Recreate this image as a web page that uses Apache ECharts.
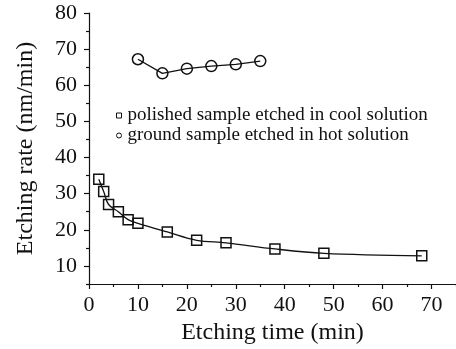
<!DOCTYPE html>
<html>
<head>
<meta charset="utf-8">
<script src="https://cdn.jsdelivr.net/npm/echarts@6/dist/echarts.min.js"></script>
<style>
  html, body { margin: 0; padding: 0; background: #fff; }
  #chart { width: 456px; height: 349px; }
</style>
</head>
<body>
<div id="chart"></div>
<script>
// polished sample, cool solution
const coolTime = [2, 3, 4, 6, 8, 10, 16, 22, 28, 38, 48, 68];
const coolRate = [34.0, 30.6, 27.0, 25.0, 22.8, 21.8, 19.4, 17.1, 16.4, 14.7, 13.5, 12.8];
// ground sample, hot solution
const hotTime = [10, 15, 20, 25, 30, 35];
const hotRate = [67.2, 63.3, 64.6, 65.3, 65.8, 66.7];

const xTicks = [0, 10, 20, 30, 40, 50, 60, 70];
const xMinor = [5, 15, 25, 35, 45, 55, 65, 75];
const yTicks = [10, 20, 30, 40, 50, 60, 70, 80];
const yMinor = [5, 15, 25, 35, 45, 55, 65, 75];

const seriesNames = ['polished sample etched in cool solution', 'ground sample etched in hot solution'];

const font = '"Liberation Serif", serif';
const ink = '#111';

const chart = echarts.init(document.getElementById('chart'));

const tickText = { t: { fontFamily: font, fontSize: 22, color: ink } };

const baseX = {
  type: 'value', min: 0, max: 75, interval: 5,
  axisLine: { lineStyle: { color: ink, width: 1.2 } },
  splitLine: { show: false }
};
const baseY = {
  type: 'value', min: 5, max: 80, interval: 5,
  axisLine: { lineStyle: { color: ink, width: 1.2 } },
  splitLine: { show: false }
};

chart.setOption({
  animation: false,
  backgroundColor: '#fff',
  textStyle: { fontFamily: font, color: ink },
  grid: { left: 89, top: 13, right: 0, bottom: 65, outerBoundsMode: 'none', containLabel: false },
  legend: {
    orient: 'vertical',
    left: 111, top: 101,
    itemWidth: 5, itemHeight: 5, itemGap: 1,
    selectedMode: false,
    lineStyle: { color: 'rgba(0,0,0,0)' },
    textStyle: { fontFamily: font, fontSize: 19, color: ink, lineHeight: 19, padding: [0, 0, 0, 1] },
    data: [
      { name: seriesNames[0], icon: 'rect', itemStyle: { color: '#fff', borderColor: ink, borderWidth: 1 } },
      { name: seriesNames[1], icon: 'circle', itemStyle: { color: '#fff', borderColor: ink, borderWidth: 1 } }
    ]
  },
  xAxis: [
    Object.assign({}, baseX, {
      name: 'Etching time (min)', nameLocation: 'middle', nameGap: 36,
      nameTextStyle: { fontFamily: font, fontSize: 24, color: ink },
      axisTick: { customValues: xTicks, length: 5, lineStyle: { color: ink, width: 1.2 } },
      axisLabel: {
        fontFamily: font, fontSize: 22, color: ink, margin: 10, rich: tickText,
        formatter: v => (xTicks.includes(v) ? '{t|' + v + '}' : '')
      }
    }),
    Object.assign({}, baseX, {
      position: 'bottom',
      axisLine: { show: false },
      axisTick: { customValues: xMinor, length: 3, lineStyle: { color: ink, width: 1.2 } },
      axisLabel: { show: false }
    })
  ],
  yAxis: [
    Object.assign({}, baseY, {
      name: 'Etching rate (nm/min)', nameLocation: 'middle', nameGap: 51,
      nameTextStyle: { fontFamily: font, fontSize: 24, color: ink },
      axisTick: { customValues: yTicks, length: 5, lineStyle: { color: ink, width: 1.2 } },
      axisLabel: {
        fontFamily: font, fontSize: 22, color: ink, margin: 12, rich: tickText,
        formatter: v => (yTicks.includes(v) ? '{t|' + v + '}' : '')
      }
    }),
    Object.assign({}, baseY, {
      position: 'left',
      axisLine: { show: false },
      axisTick: { customValues: yMinor, length: 3, lineStyle: { color: ink, width: 1.2 } },
      axisLabel: { show: false }
    })
  ],
  series: [
    {
      name: seriesNames[0],
      type: 'line',
      smooth: 0.35,
      data: coolTime.map((t, i) => [t, coolRate[i]]),
      symbol: 'rect', symbolSize: 10,
      itemStyle: { color: 'rgba(0,0,0,0)', borderColor: ink, borderWidth: 1.5 },
      lineStyle: { color: ink, width: 1.3 }
    },
    {
      name: seriesNames[1],
      type: 'line',
      data: hotTime.map((t, i) => [t, hotRate[i]]),
      symbol: 'circle', symbolSize: 11,
      itemStyle: { color: 'rgba(0,0,0,0)', borderColor: ink, borderWidth: 1.5 },
      lineStyle: { color: ink, width: 1.3 }
    }
  ]
});
</script>
</body>
</html>
